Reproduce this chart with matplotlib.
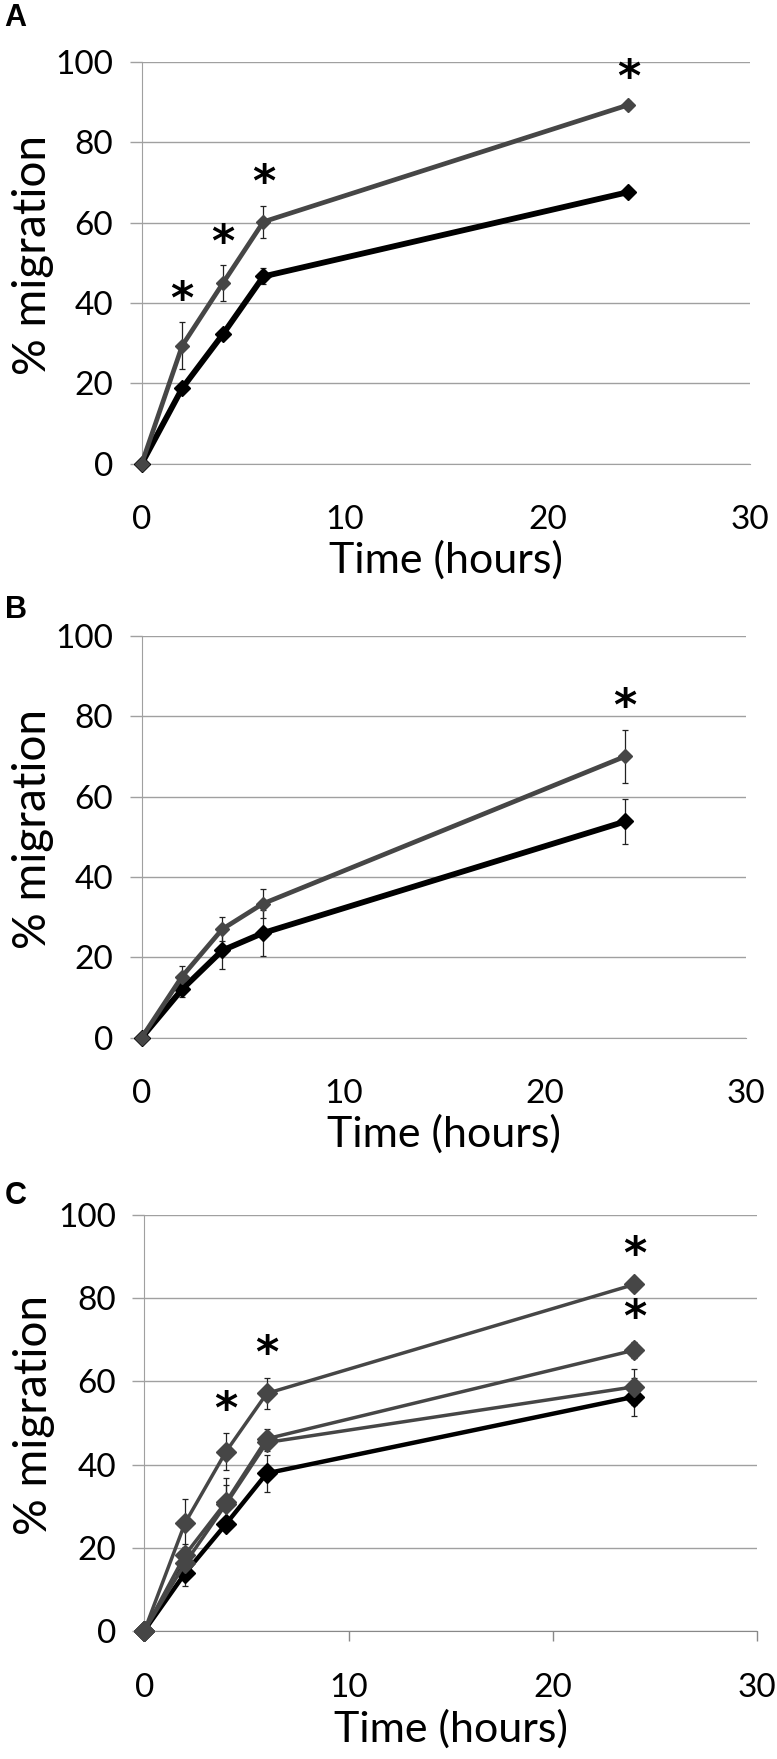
import matplotlib
matplotlib.use("Agg")
import matplotlib.pyplot as plt

plt.rcParams['font.family'] = ['Lato', 'DejaVu Sans']

# time points (hours)
time_h = [0, 2, 4, 6, 24]

# panel A
a_ctrl = [0, 18.8, 32.2, 46.6, 67.6]
a_ctrl_err = [0, 1.0, 1.0, 2.0, 1.0]
a_treat = [0, 29.4, 44.9, 60.2, 89.3]
a_treat_err = [0, 5.8, 4.5, 4.0, 1.0]
a_sig = [2, 4, 6, 24]

# panel B
b_ctrl = [0, 12.0, 21.7, 26.0, 53.8]
b_ctrl_err = [0, 1.8, 4.7, 5.8, 5.7]
b_treat = [0, 15.2, 27.0, 33.3, 70.0]
b_treat_err = [0, 2.7, 3.0, 3.6, 6.6]
b_sig = [24]

# panel C
c_ctrl = [0, 13.9, 25.7, 37.9, 56.3]
c_ctrl_err = [0, 3.0, 1.0, 4.5, 4.6]
c_s1 = [0, 26.0, 43.1, 57.1, 83.3]
c_s1_err = [0, 5.8, 4.4, 3.8, 1.5]
c_s2 = [0, 18.3, 31.0, 46.2, 67.5]
c_s2_err = [0, 2.5, 5.8, 2.3, 2.0]
c_s3 = [0, 16.3, 30.5, 45.3, 58.7]
c_s3_err = [0, 2.5, 4.6, 2.0, 4.3]
c_s1_sig = [4, 6, 24]
c_s2_sig = [24]

x_ticks = [0, 10, 20, 30]
y_ticks = [0, 20, 40, 60, 80, 100]

BLACK = '#000000'
GRAY = '#464646'
GRID = '#a0a0a0'


def draw_series(ax, y, err, color, lw, ms):
    ax.errorbar(time_h, y, yerr=err, fmt='none', ecolor='#222222',
                elinewidth=0.9, capsize=2.5, capthick=0.9, zorder=3, clip_on=False)
    ax.plot(time_h, y, color=color, lw=lw, marker='D', ms=ms,
            markeredgecolor=color, zorder=4, clip_on=False)


def add_stars(ax, sig, y, err, offset=5.5):
    for t in sig:
        i = time_h.index(t)
        ax.text(t, y[i] + err[i] + offset, '*', fontsize=32, fontweight='bold',
                family='DejaVu Sans', ha='center', va='center', zorder=5)


def style_axes(ax, xticks_marks=False):
    ax.set_xlim(0, 30)
    ax.set_ylim(0, 100)
    ax.set_xticks(x_ticks)
    ax.set_yticks(y_ticks)
    ax.yaxis.grid(True, color=GRID, lw=1.0)
    ax.set_axisbelow(True)
    for s in ['top', 'right']:
        ax.spines[s].set_visible(False)
    ax.spines['left'].set_color(GRID)
    ax.spines['bottom'].set_color(GRID if not xticks_marks else '#888888')
    ax.tick_params(axis='y', length=8.5, width=1.0, color=GRID, pad=12,
                   labelsize=24)
    if xticks_marks:
        ax.tick_params(axis='x', length=7, width=1.0, color='#888888', pad=23.5,
                       labelsize=24)
    else:
        ax.tick_params(axis='x', length=0, pad=29.5, labelsize=24)
    ax.set_xlabel('Time (hours)', fontsize=31, labelpad=4)
    ax.set_ylabel('% migration', fontsize=33)
    ax.yaxis.set_label_coords(-0.145, 0.52)


fig = plt.figure(figsize=(7.77, 17.59), dpi=100)

axA = fig.add_axes([0.1824, 0.7364, 0.7829, 0.2284])
axB = fig.add_axes([0.1824, 0.4101, 0.7777, 0.2284])
axC = fig.add_axes([0.1857, 0.0728, 0.7885, 0.2365])

# A
style_axes(axA)
draw_series(axA, a_ctrl, a_ctrl_err, BLACK, 4.2, 8.5)
draw_series(axA, a_treat, a_treat_err, GRAY, 3.4, 7.5)
add_stars(axA, a_sig, a_treat, a_treat_err)

# B
style_axes(axB)
draw_series(axB, b_ctrl, b_ctrl_err, BLACK, 4.2, 8.5)
draw_series(axB, b_treat, b_treat_err, GRAY, 3.4, 7.5)
add_stars(axB, b_sig, b_treat, b_treat_err)

# C
style_axes(axC, xticks_marks=True)
draw_series(axC, c_ctrl, c_ctrl_err, BLACK, 3.2, 10)
draw_series(axC, c_s3, c_s3_err, GRAY, 2.5, 10)
draw_series(axC, c_s2, c_s2_err, GRAY, 2.5, 10)
draw_series(axC, c_s1, c_s1_err, GRAY, 2.5, 10)
add_stars(axC, c_s1_sig, c_s1, c_s1_err)
add_stars(axC, c_s2_sig, c_s2, c_s2_err)

for label, y in [('A', 0.990), ('B', 0.653), ('C', 0.320)]:
    fig.text(0.006, y, label, fontsize=22, fontweight='bold',
             family='Liberation Sans', ha='left', va='center')

fig.savefig('out.png', dpi=100)
